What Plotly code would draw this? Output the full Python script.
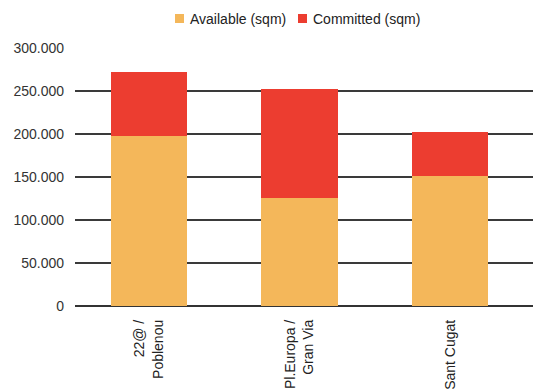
import plotly.graph_objects as go

categories = ["22@ /<br>Poblenou", "Pl.Europa /<br>Gran Via", "Sant Cugat"]
series_names = ["Available (sqm)", "Committed (sqm)"]
series_colors = ["#F4B75A", "#EC3D30"]
available = [197500, 125500, 151000]
committed = [75000, 126500, 51000]
y_ticks = [0, 50000, 100000, 150000, 200000, 250000, 300000]
y_tick_labels = ["0", "50.000", "100.000", "150.000", "200.000", "250.000", "300.000"]

W, H = 533, 392
L, R, T, B = 75, 0, 47, 86
pw, ph = W - L - R, H - T - B


def px_x(p):
    return (p - L) / pw


def px_y(p):
    return (H - B - p) / ph


fig = go.Figure()
for name, color, vals in zip(series_names, series_colors, [available, committed]):
    fig.add_trace(go.Bar(x=categories, y=vals, name=name,
                         marker=dict(color=color, line=dict(width=0))))

# manual legend (swatch + label), to match the compact reference legend
legend_pos = [(175, 188), (298, 311)]
for (sx, tx), name, color in zip(legend_pos, series_names, series_colors):
    fig.add_shape(type="rect", xref="paper", yref="paper",
                  x0=px_x(sx), x1=px_x(sx + 9), y0=px_y(23), y1=px_y(14),
                  fillcolor=color, line=dict(width=0))
    fig.add_annotation(text=name, xref="paper", yref="paper", x=px_x(tx), y=px_y(18.5),
                       xanchor="left", yanchor="middle", showarrow=False,
                       font=dict(size=14, color="#222"))

fig.update_layout(
    barmode="stack",
    bargap=0.49,
    width=W, height=H,
    margin=dict(l=L, r=R, t=T, b=B),
    paper_bgcolor="white", plot_bgcolor="white",
    font=dict(family="Arial, Liberation Sans, sans-serif", size=14, color="#333"),
    showlegend=False,
    xaxis=dict(range=[-0.4917, 2.551], tickangle=-90, showgrid=False, ticks="",
               tickfont=dict(size=14, color="#222"), showline=False, zeroline=False,
               ticklabelstandoff=10),
    yaxis=dict(range=[0, 301000], tickvals=y_ticks, ticktext=y_tick_labels,
               showgrid=True, gridcolor="#3a3a3a", gridwidth=1.5, zeroline=True,
               zerolinecolor="#333", zerolinewidth=1.5, ticks="",
               tickfont=dict(size=14, color="#333"), ticklabelstandoff=10),
)

fig.write_html("out.html")
